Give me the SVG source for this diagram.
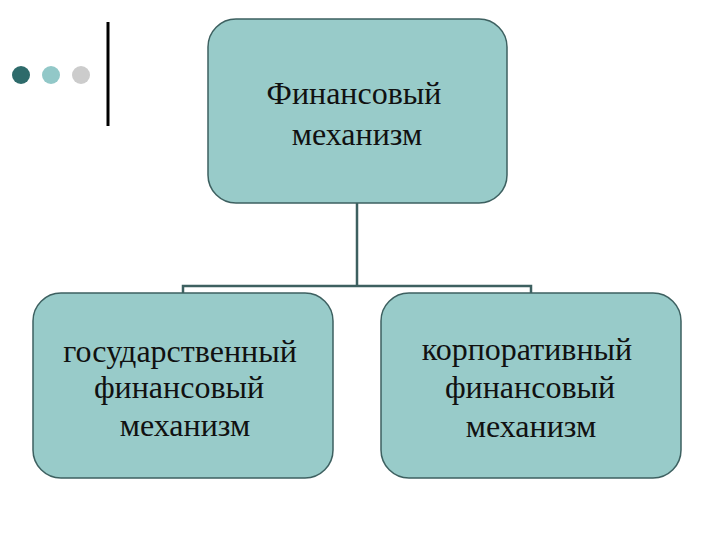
<svg xmlns="http://www.w3.org/2000/svg" width="720" height="540" viewBox="0 0 720 540">
<style>
.box{fill:#98cbc9;stroke:#3d6060;stroke-width:1.5}
.t{font-family:"Liberation Serif","DejaVu Serif",serif;font-size:32px;fill:#111;text-anchor:middle}
.con{fill:none;stroke:#3d6060;stroke-width:2.5}
</style>
<rect width="720" height="540" fill="#fff"/>
<g id="decor">
<circle cx="21" cy="75" r="9" fill="#2e6b6b"/>
<circle cx="51" cy="75" r="9" fill="#92c8c8"/>
<circle cx="81" cy="75" r="9" fill="#cccccc"/>
<line x1="108" y1="22" x2="108" y2="126" stroke="#000" stroke-width="3"/>
</g>
<g id="connectors">
<path class="con" d="M357 203 V286 M183 293 V286 H531 V293"/>
</g>
<g id="root">
<rect class="box" x="208" y="19" width="299" height="184" rx="28"/>
<text class="t" x="354" y="104">Финансовый</text>
<text class="t" x="357" y="145">механизм</text>
</g>
<g id="left">
<rect class="box" x="33" y="293" width="300" height="185" rx="28"/>
<text class="t" x="180" y="362">государственный</text>
<text class="t" x="179" y="398">финансовый</text>
<text class="t" x="185" y="436">механизм</text>
</g>
<g id="right">
<rect class="box" x="381" y="293" width="300" height="185" rx="28"/>
<text class="t" x="527" y="360">корпоративный</text>
<text class="t" x="530" y="398">финансовый</text>
<text class="t" x="531" y="437">механизм</text>
</g>
</svg>
